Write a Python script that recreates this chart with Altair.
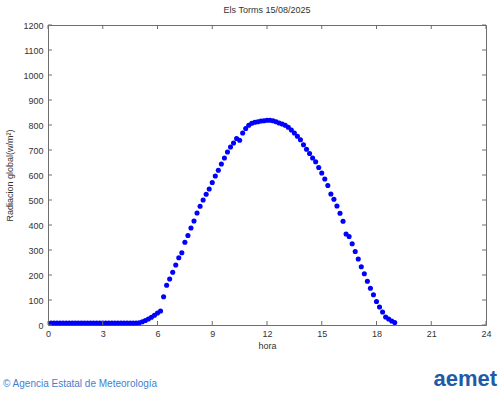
import altair as alt
import pandas as pd

# time of each reading (hours), readings every 10 minutes from 00:10 to 19:00
hours = [i / 6 for i in range(1, 115)]

night = [8] * 29  # 00:10 .. 04:50
day = [9, 13, 18, 24, 31, 39, 48, 56, 113, 159, 184, 211, 240, 269, 289, 331,
       358, 388, 416, 448, 475, 500, 523, 544, 570, 596, 619, 644, 668, 692,
       712, 728, 746, 739, 768, 786, 799, 807, 811, 813, 816, 817, 819, 819,
       817, 813, 808, 804, 799, 791, 780, 768, 755, 741, 721, 703, 686, 668,
       653, 630, 608, 584, 558, 524, 503, 476, 447, 415, 364, 354, 325, 294,
       264, 233, 205, 175, 147, 121, 94, 72, 52, 32, 24, 16, 10]
radiacion = night + day

x_ticks = [0, 3, 6, 9, 12, 15, 18, 21, 24]
y_ticks = [0, 100, 200, 300, 400, 500, 600, 700, 800, 900, 1000, 1100, 1200]

title_text = "Els Torms 15/08/2025"
footer_text = "© Agencia Estatal de Meteorología"
logo_text = "aemet"

W, H = 438, 300
FONT = "Liberation Sans"
FRAME = "#6e6e6e"

df = pd.DataFrame({"hora": hours, "rad": radiacion})
xt = pd.DataFrame({"hora": x_ticks})
yt = pd.DataFrame({"rad": y_ticks})

xs = alt.Scale(domain=[0, 24], nice=False, zero=False)
ys = alt.Scale(domain=[0, 1200], nice=False)

x_axis = alt.Axis(values=x_ticks, title="hora", grid=False, domain=False,
                  ticks=False, labelPadding=4, labelFontSize=9, format="d",
                  labelFlush=False, labelOverlap=False, labelBound=False,
                  labelFont=FONT, labelColor="#333", titleFont=FONT,
                  titleFontSize=9, titleFontWeight="normal",
                  titleColor="#333", titlePadding=3)
y_axis = alt.Axis(values=y_ticks, title="Radiacion global(w/m²)", grid=False,
                  domain=False, ticks=False, labelPadding=5, format="d",
                  labelFlush=False, labelOverlap=False, labelBound=False,
                  labelFontSize=9, labelFont=FONT, labelColor="#333",
                  titleFont=FONT, titleFontSize=9,
                  titleFontWeight="normal", titleColor="#333",
                  titleX=-34, titleY=H / 2)

X = alt.X("hora:Q", scale=xs, axis=x_axis)
Y = alt.Y("rad:Q", scale=ys, axis=y_axis)

points = alt.Chart(df).mark_circle(size=26, color="#0000ff", opacity=1).encode(x=X, y=Y)

tick_bottom = alt.Chart(xt).mark_rule(color=FRAME).encode(
    x=X, y=alt.value(H), y2=alt.value(H - 4))
tick_top = alt.Chart(xt).mark_rule(color=FRAME).encode(
    x=X, y=alt.value(0), y2=alt.value(4))
tick_left = alt.Chart(yt).mark_rule(color=FRAME).encode(
    y=Y, x=alt.value(0), x2=alt.value(4))
tick_right = alt.Chart(yt).mark_rule(color=FRAME).encode(
    y=Y, x=alt.value(W), x2=alt.value(W - 4))

footer = alt.Chart(pd.DataFrame({"t": [footer_text]})).mark_text(
    align="left", baseline="middle", fontSize=10, font=FONT, color="#3f7fcf"
).encode(x=alt.value(-45), y=alt.value(359), text="t:N")

logo = alt.Chart(pd.DataFrame({"t": [logo_text]})).mark_text(
    align="right", baseline="middle", fontSize=22, font=FONT, fontWeight="bold",
    color="#1f5ba8"
).encode(x=alt.value(449), y=alt.value(354), text="t:N")

chart = alt.layer(points, tick_bottom, tick_top, tick_left, tick_right, footer, logo).properties(
    width=W, height=H,
    title=alt.TitleParams(title_text, fontSize=9, font=FONT, fontWeight="normal",
                          color="#333", anchor="middle", offset=6),
    padding={"left": 48, "top": 25, "right": 14, "bottom": 70},
    autosize=alt.AutoSizeParams(type="none"),
    background="white",
).configure_view(stroke=FRAME, strokeWidth=1)

chart.save("out.html", embed_options={"renderer": "svg", "actions": False})
